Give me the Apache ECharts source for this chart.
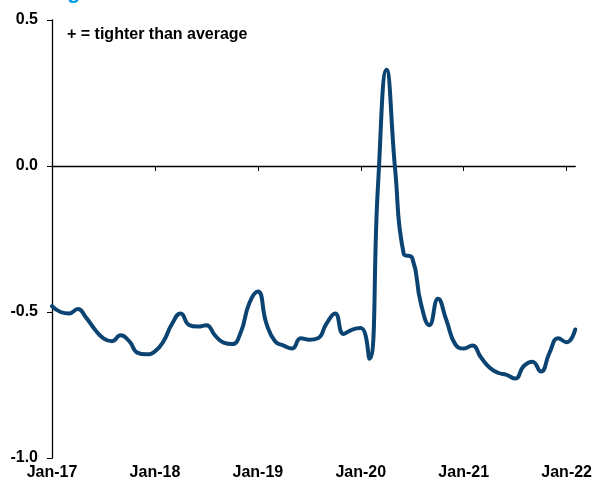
<!DOCTYPE html>
<html>
<head>
<meta charset="utf-8">
<script src="https://cdn.jsdelivr.net/npm/echarts@6/dist/echarts.min.js"></script>
<style>
  html, body { margin: 0; padding: 0; background: #ffffff; }
  #chart { width: 595px; height: 485px; }
</style>
</head>
<body>
<div id="chart"></div>
<script>
// Monthly index, Jan-17 .. Feb-22 (positive = tighter than average)
const months = [];
const monthNames = ['Jan','Feb','Mar','Apr','May','Jun','Jul','Aug','Sep','Oct','Nov','Dec'];
for (let y = 17; y <= 22; y++) {
  for (let m = 0; m < 12; m++) {
    if (y === 22 && m > 1) break;
    months.push(monthNames[m] + '-' + y);
  }
}

const indexValues = [
  -0.48, -0.50, -0.505, -0.49, -0.52, -0.56, -0.59, -0.60, -0.58, -0.60, -0.64, -0.645,
  -0.635, -0.60, -0.54, -0.505, -0.545, -0.55, -0.545, -0.58, -0.605, -0.61, -0.57, -0.47,
  -0.43, -0.54, -0.60, -0.615, -0.625, -0.59, -0.595, -0.59, -0.54, -0.505, -0.575, -0.56,
  -0.555, -0.66, -0.07, 0.33, -0.01, -0.30, -0.315, -0.47, -0.545, -0.455, -0.53, -0.61,
  -0.625, -0.615, -0.655, -0.69, -0.708, -0.715, -0.728, -0.685, -0.67, -0.704, -0.64, -0.59,
  -0.604, -0.56
];

const yTicks = [-1.0, -0.5, 0.0, 0.5];

const FONT = '"Liberation Sans", Arial, sans-serif';
const chart = echarts.init(document.getElementById('chart'), null, { renderer: 'canvas' });

chart.setOption({
  animation: false,
  backgroundColor: '#ffffff',
  grid: { left: 52, right: 17, top: 20, bottom: 27, containLabel: false },
  graphic: [
    {
      type: 'text', left: 67, top: 27,
      style: { text: '+ = tighter than average', font: 'bold 16px ' + FONT, fill: '#000000' }
    },
    {
      type: 'text', x: 67, y: -19,
      style: { text: 'g', font: 'bold 22px ' + FONT, fill: '#0aa0e6', verticalAlign: 'top' }
    }
  ],
  xAxis: [
    {
      type: 'category', data: months, boundaryGap: false, position: 'bottom',
      axisLine: { show: false, onZero: false },
      axisTick: { show: false },
      axisLabel: {
        interval: 11, margin: 7,
        color: '#000000', fontFamily: FONT, fontWeight: 'bold', fontSize: 16
      },
      splitLine: { show: false }
    },
    {
      type: 'category', data: months, boundaryGap: false, position: 'bottom',
      axisLine: { show: true, onZero: true, lineStyle: { color: '#000000', width: 1.3 } },
      axisTick: { show: true, interval: 11, length: 5, inside: false, lineStyle: { color: '#000000', width: 1 } },
      axisLabel: { show: false },
      splitLine: { show: false }
    }
  ],
  yAxis: {
    type: 'value', min: -1.0, max: 0.5, interval: 0.5,
    axisLine: { show: true, onZero: false, lineStyle: { color: '#000000', width: 1.3 } },
    axisTick: { show: true, length: 5, lineStyle: { color: '#000000', width: 1 } },
    axisLabel: {
      margin: 14, color: '#000000', fontFamily: FONT, fontWeight: 'bold', fontSize: 16,
      formatter: v => yTicks.some(t => Math.abs(t - v) < 1e-9) ? v.toFixed(1) : ''
    },
    splitLine: { show: false }
  },
  series: [
    {
      type: 'line', xAxisIndex: 0, data: indexValues,
      smooth: 0.5, symbol: 'none',
      lineStyle: { color: '#0b4472', width: 4, cap: 'round', join: 'round' }
    }
  ]
});
</script>
</body>
</html>
